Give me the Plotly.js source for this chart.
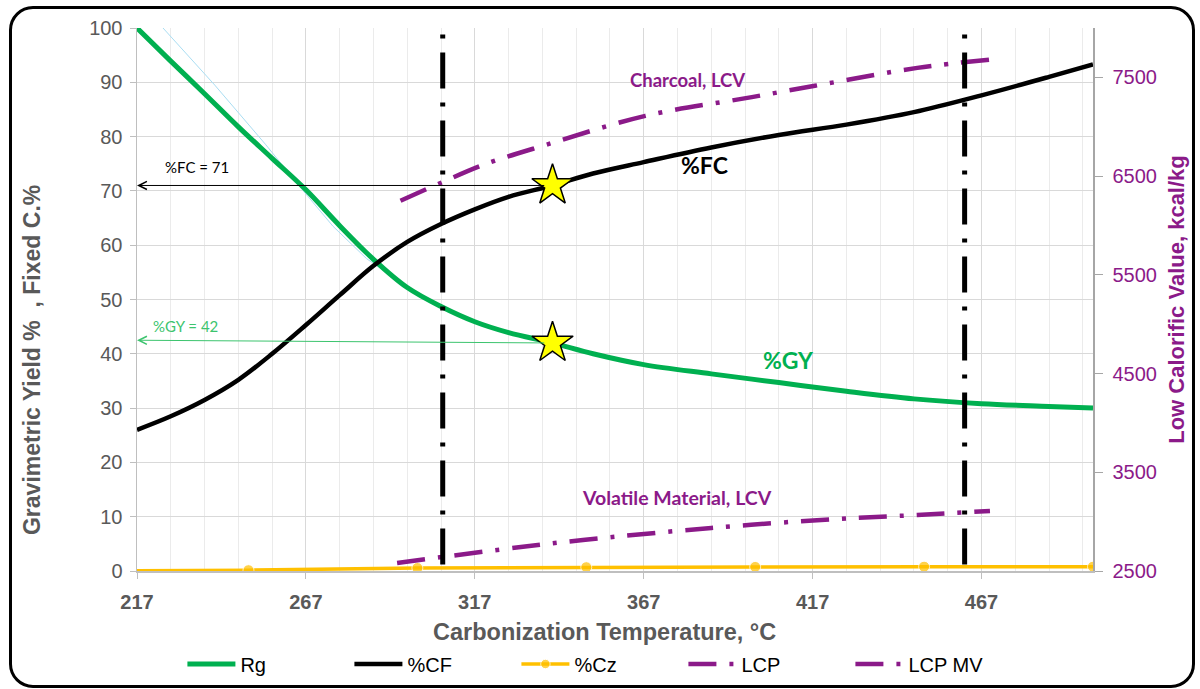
<!DOCTYPE html>
<html>
<head>
<meta charset="utf-8">
<script src="https://cdn.plot.ly/plotly-3.0.1.min.js"></script>
<style>
  html, body { margin:0; padding:0; background:#fff; }
  #wrap { position:relative; width:1200px; height:689px; overflow:hidden; }
  #chart { position:absolute; left:0; top:0; width:1200px; height:689px; }
  #frame { position:absolute; left:9px; top:6px; width:1186px; height:682px; border:3px solid #000; border-radius:24px; pointer-events:none; box-sizing:border-box; }
</style>
</head>
<body>
<div id="wrap"><div id="chart"></div><div id="frame"></div></div>
<script>
// ---- data ----
const temps = [217, 227, 237, 247, 257, 267, 277, 287, 297, 307, 317, 327, 340, 352, 367, 387, 407, 427, 447, 467, 487, 500];
const rgYield = [100, 93.9, 87.9, 81.8, 76.0, 70.2, 63.6, 57.4, 52.2, 48.7, 45.9, 43.9, 42.0, 40.0, 38.0, 36.3, 34.7, 33.1, 31.7, 30.8, 30.3, 30.0];
const fixedCarbon = [26.0, 28.5, 31.5, 35.2, 40.0, 45.3, 50.8, 56.2, 60.6, 63.9, 66.6, 68.9, 71.0, 73.2, 75.3, 78.0, 80.3, 82.2, 84.5, 87.6, 91.0, 93.3];
const fitTemps = [224.7, 240, 255, 265.7, 275, 285, 292];
const fitYield = [100, 89.5, 78.6, 70.4, 63.5, 57.5, 54.5];
const ashTemps = [217, 250, 300, 350, 400, 450, 500];
const ashValues = [0.05, 0.15, 0.55, 0.7, 0.75, 0.8, 0.8];
const ashMarkerSizes = [0, 11, 11, 11, 11, 11, 11];
const lcvTemps = [295, 307.5, 320, 338, 367.5, 399, 424, 448, 469.5];
const lcvCharcoal = [6250, 6440, 6620, 6816, 7110, 7300, 7454, 7596, 7680];
const lcvVolTemps = [294, 307.5, 330, 349, 387, 424, 448, 469.5];
const lcvVolatile = [2581, 2642, 2740, 2814, 2936, 3027, 3067, 3108];
const stageTemps = [307.5, 462];
const starTemps = [340, 340];
const starValues = [71, 42];
const legendNames = ['Rg', '%CF', '%Cz', 'LCP', 'LCP MV'];

const green = '#00B050', purple = '#8B1A89', gray = '#595959';
const calib = 'Lato, Carlito, Calibri, sans-serif';
const arial = 'Liberation Sans, Arial, sans-serif';

const traces = [
  {x: fitTemps, y: fitYield, mode:'lines', line:{color:'#A9DDF2', width:1}, showlegend:false, hoverinfo:'skip'},
  {x: temps, y: rgYield, name: legendNames[0], mode:'lines', line:{color:green, width:5, shape:'spline'}},
  {x: temps, y: fixedCarbon, name: legendNames[1], mode:'lines', line:{color:'#000', width:4.5, shape:'spline'}},
  {x: ashTemps, y: ashValues, name: legendNames[2], mode:'lines+markers', line:{color:'#FFC000', width:3.5},
   marker:{color:'#FFC000', size:ashMarkerSizes}},
  {x: lcvTemps, y: lcvCharcoal, name: legendNames[3], yaxis:'y2', mode:'lines',
   line:{color:purple, width:4.5, dash:'28px,13px,4px,13px', shape:'spline'}},
  {x: lcvVolTemps, y: lcvVolatile, name: legendNames[4], yaxis:'y2', mode:'lines',
   line:{color:purple, width:4.5, dash:'28px,13px,4px,13px', shape:'spline'}},
  {x: starTemps, y: starValues, mode:'markers', showlegend:false,
   marker:{symbol:'star', size:31, color:'#FFFF00', line:{color:'#000', width:1.5}}}
];

const shapes = stageTemps.map((t, i) => ({
  type:'line', xref:'x', yref:'paper', x0:t, x1:t, y0:0.012, y1: i === 0 ? 1 : 0.99,
  line:{color:'#000', width:5, dash:'36px,14px,4px,14px'}
}));

const annotations = [
  {x:217, y:starValues[0], ax:starTemps[0]-2, ay:starValues[0], xref:'x', yref:'y', axref:'x', ayref:'y',
   showarrow:true, arrowhead:5, arrowsize:1.6, arrowwidth:1, arrowcolor:'#000', text:''},
  {x:217, y:starValues[1]+0.5, ax:starTemps[1]-2, ay:starValues[1], xref:'x', yref:'y', axref:'x', ayref:'y',
   showarrow:true, arrowhead:5, arrowsize:1.6, arrowwidth:1, arrowcolor:'#3CC46E', text:''},
  {x:234.8, y:74.4, xref:'x', yref:'y', showarrow:false, text:'%FC = 71', font:{family:calib, size:15, color:'#000'}},
  {x:231.5, y:45.2, xref:'x', yref:'y', showarrow:false, text:'%GY = 42', font:{family:calib, size:15, color:'#3CC46E'}},
  {x:385, y:74.8, xref:'x', yref:'y', showarrow:false, text:'<b>%FC</b>', font:{family:calib, size:23, color:'#000'}},
  {x:380, y:90.4, xref:'x', yref:'y', showarrow:false, text:'<b>Charcoal, LCV</b>', font:{family:calib, size:18.5, color:purple}},
  {x:410, y:38.9, xref:'x', yref:'y', showarrow:false, text:'<b>%GY</b>', font:{family:calib, size:23, color:green}},
  {x:376.8, y:13.6, xref:'x', yref:'y', showarrow:false, text:'<b>Volatile Material, LCV</b>', font:{family:calib, size:19.5, color:purple}},
  // axis titles placed as in the reference
  {x:-0.1098, y:0.3886, xref:'paper', yref:'paper', showarrow:false, textangle:-90, xanchor:'center', yanchor:'middle',
   text:'<b>Gravimetric Yield %  , Fixed C.%</b>', font:{family:arial, size:23, color:gray}},
  {x:0.4895, y:-0.1123, xref:'paper', yref:'paper', showarrow:false, xanchor:'center', yanchor:'middle',
   text:'<b>Carbonization Temperature, °C</b>', font:{family:arial, size:23.5, color:gray}}
];

const layout = {
  width:1200, height:689,
  margin:{l:137, r:107, t:28, b:118, autoexpand:false},
  paper_bgcolor:'#fff', plot_bgcolor:'#fff',
  font:{family:arial},
  showlegend:true,
  legend:{orientation:'h', x:0.0475, xanchor:'left', yref:'container', y:0.0363, yanchor:'middle', itemwidth:48,
          entrywidth:104, entrywidthmode:'pixels', font:{family:arial, size:20, color:'#000'}, bgcolor:'rgba(0,0,0,0)'},
  xaxis:{range:[217,500], tick0:217, dtick:50, ticks:'outside', ticklen:6, tickcolor:'#BFBFBF', ticklabelstandoff:6,
         showline:true, linecolor:'#BFBFBF', linewidth:1.5, gridcolor:'#D9D9D9', zeroline:false, automargin:false,
         minor:{tick0:217, dtick:10, showgrid:true, gridcolor:'#EBEBEB', ticks:''},
         tickfont:{family:arial, size:20, color:gray, weight:'bold'}},
  yaxis:{range:[0,100], dtick:10, ticks:'outside', ticklen:6, tickcolor:'#BFBFBF', ticklabelstandoff:3,
         showline:true, linecolor:'#BFBFBF', linewidth:1.5, gridcolor:'#D9D9D9', zeroline:false, automargin:false,
         tickfont:{family:arial, size:20, color:gray}},
  yaxis2:{overlaying:'y', side:'right', range:[2500,8000], tick0:2500, dtick:1000, showgrid:false, zeroline:false,
          ticks:'outside', ticklen:8, tickcolor:'#A6A6A6', showline:true, linecolor:'#A6A6A6', linewidth:1.5, ticklabelstandoff:6,
          automargin:false, tickfont:{family:arial, size:20, color:purple},
          title:{text:'<b>Low Calorific Value, kcal/kg</b>', font:{family:arial, size:22, color:purple}, standoff:12}},
  shapes:shapes,
  annotations:annotations
};

Plotly.newPlot('chart', traces, layout, {displayModeBar:false, staticPlot:true});
</script>
</body>
</html>
